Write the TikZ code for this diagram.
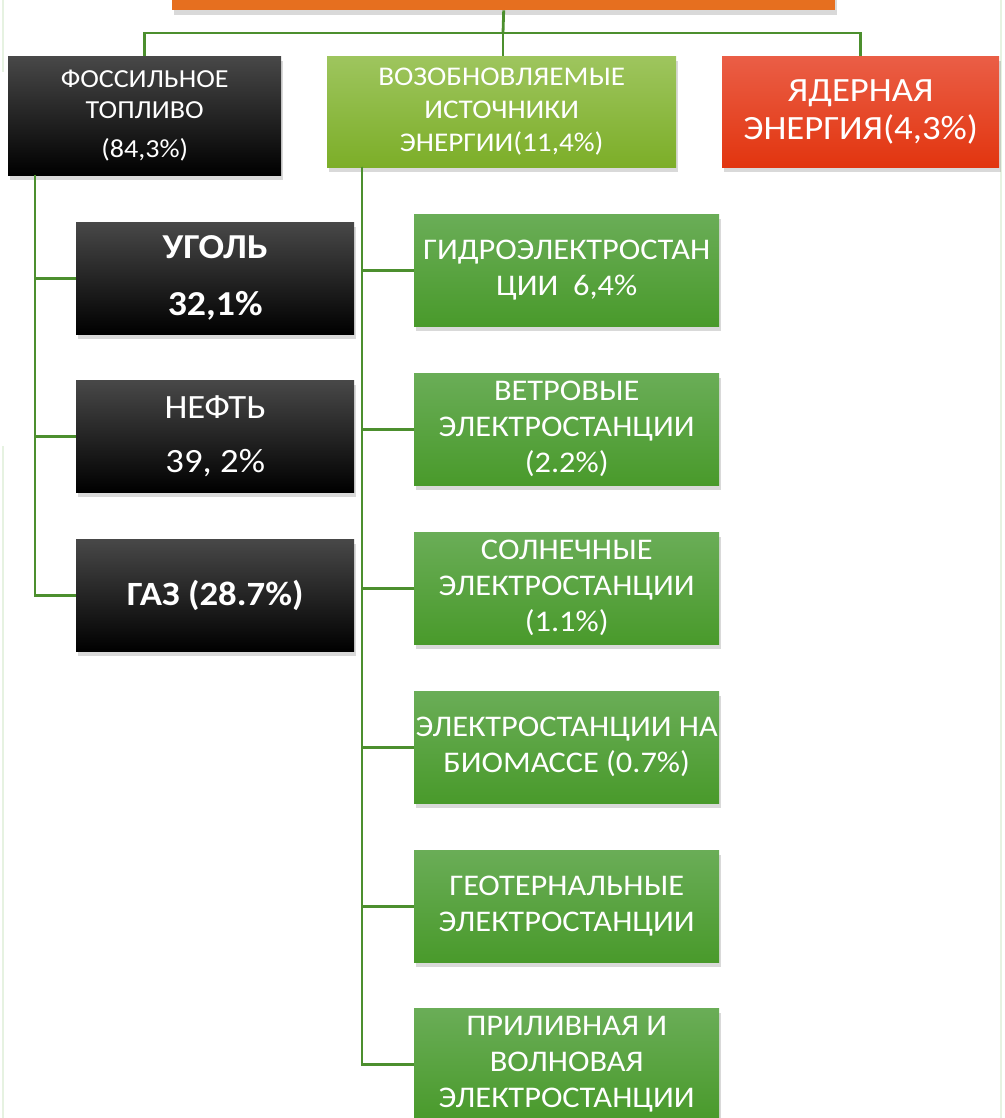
\documentclass[tikz,border=0pt]{standalone}
\usepackage{fontspec}
\setmainfont{Carlito}[FakeStretch=1.08]
\usetikzlibrary{positioning, shadows}

\definecolor{linegreen}{HTML}{4C8F2E}
\definecolor{edgegreen}{HTML}{E6F2E1}
\definecolor{orangetop}{HTML}{E66F1F}
\definecolor{greentop}{HTML}{6AAD57}
\definecolor{greenbot}{HTML}{499A2B}
\definecolor{limetop}{HTML}{9EC55E}
\definecolor{limebot}{HTML}{7CAE28}
\definecolor{redtop}{HTML}{EA5E46}
\definecolor{redbot}{HTML}{E2350F}
\definecolor{greytop}{HTML}{484848}

\tikzset{
  box/.style={anchor=north west, inner sep=0pt, align=center, text=white,
    drop shadow={shadow xshift=2pt, shadow yshift=-5pt, opacity=0.3}},
  fosbox/.style={box, top color=greytop, middle color=black, bottom color=black},
  renbox/.style={box, top color=greentop, bottom color=greenbot,
    minimum width=305pt, minimum height=112pt, font=\fontsize{30}{36}\selectfont},
  link/.style={draw=linegreen, line width=2.8pt}
}

\begin{document}
\begin{tikzpicture}[x=1pt, y=-1pt]
\useasboundingbox (0,0) rectangle (1004,1118);
\draw [edgegreen, line width=2pt] (3, 0) -- (3, 72);
\draw [edgegreen, line width=2pt] (3, 446) -- (3, 1118);
\draw [edgegreen, line width=2pt] (1001, 0) -- (1001, 1118);

\node [box, fill=orangetop, minimum width=663pt, minimum height=80pt] (top) at (172, -70) {};

\node [fosbox, minimum width=273pt, minimum height=119pt, font=\fontsize{26}{31}\selectfont] (fos) at (8, 56)
  {ФОССИЛЬНОЕ\\ТОПЛИВО\\[8pt](84,3\%)};
\node [box, top color=limetop, bottom color=limebot, minimum width=349pt, minimum height=111pt,
  font=\fontsize{27}{33}\selectfont] (ren) at (327, 56)
  {ВОЗОБНОВЛЯЕМЫЕ\\ИСТОЧНИКИ\\ЭНЕРГИИ(11,4\%)};
\node [box, top color=redtop, bottom color=redbot, minimum width=277pt, minimum height=111pt,
  font=\fontsize{34}{38}\selectfont] (nuc) at (722, 56)
  {ЯДЕРНАЯ\\ЭНЕРГИЯ(4,3\%)};

\node [fosbox, minimum width=278pt, minimum height=112pt, font=\bfseries\fontsize{35}{40}\selectfont] (coal) at (76, 222)
  {УГОЛЬ\\[17pt]32,1\%};
\node [fosbox, minimum width=278pt, minimum height=112pt, font=\fontsize{34}{38}\selectfont] (oil) at (76, 380)
  {НЕФТЬ\\[16pt]39, 2\%};
\node [fosbox, minimum width=278pt, minimum height=112pt, font=\bfseries\fontsize{34}{40}\selectfont] (gas) at (76, 539)
  {ГАЗ (28.7\%)};

\node [renbox] (hydro) at (414, 214) {ГИДРОЭЛЕКТРОСТАН\\ЦИИ~~6,4\%};
\node [renbox] (wind) at (414, 373) {ВЕТРОВЫЕ\\ЭЛЕКТРОСТАНЦИИ\\(2.2\%)};
\node [renbox] (solar) at (414, 532) {СОЛНЕЧНЫЕ\\ЭЛЕКТРОСТАНЦИИ\\(1.1\%)};
\node [renbox] (bio) at (414, 691) {ЭЛЕКТРОСТАНЦИИ НА\\БИОМАССЕ (0.7\%)};
\node [renbox] (geo) at (414, 850) {ГЕОТЕРНАЛЬНЫЕ\\ЭЛЕКТРОСТАНЦИИ};
\node [renbox] (tide) at (414, 1008) {ПРИЛИВНАЯ И\\ВОЛНОВАЯ\\ЭЛЕКТРОСТАНЦИИ};

\coordinate (bus) at (503, 33);
\coordinate (fostrunk) at (35, 175);
\coordinate (rentrunk) at (362, 167);
\draw [link] (top.south) -- (bus);
\draw [link] (bus) -| (fos.north);
\draw [link] (bus) -| (nuc.north);
\draw [link] (bus) -- (bus |- ren.north);
\foreach \n in {coal, oil, gas}
  \draw [link] (fostrunk) |- (\n.west);
\foreach \n in {hydro, wind, solar, bio, geo, tide}
  \draw [link] (rentrunk) |- (\n.west);
\end{tikzpicture}
\end{document}
